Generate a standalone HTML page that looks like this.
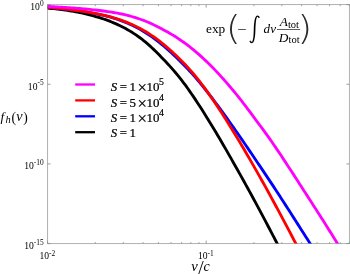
<!DOCTYPE html>
<html><head><meta charset="utf-8"><title>plot</title>
<style>html,body{margin:0;padding:0;background:#fff;}body{width:350px;height:274px;overflow:hidden;position:relative;}</style>
</head><body>
<svg width="350" height="274" viewBox="0 0 350 274" style="position:absolute;left:0;top:0">
<defs><clipPath id="ax"><rect x="47.6" y="1.6" width="303.8" height="242"/></clipPath></defs>
<rect x="47.6" y="4.6" width="301.79999999999995" height="239.0" fill="none" stroke="#a8a8a8" stroke-width="0.9"/>
<path d="M47.60,243.6v-3M47.60,4.6v3M95.34,243.6v-1.5M95.34,4.6v1.5M123.26,243.6v-1.5M123.26,4.6v1.5M143.08,243.6v-1.5M143.08,4.6v1.5M158.45,243.6v-1.5M158.45,4.6v1.5M171.00,243.6v-1.5M171.00,4.6v1.5M181.62,243.6v-1.5M181.62,4.6v1.5M190.82,243.6v-1.5M190.82,4.6v1.5M198.93,243.6v-1.5M198.93,4.6v1.5M206.18,243.6v-3M206.18,4.6v3M253.92,243.6v-1.5M253.92,4.6v1.5M281.85,243.6v-1.5M281.85,4.6v1.5M301.66,243.6v-1.5M301.66,4.6v1.5M317.03,243.6v-1.5M317.03,4.6v1.5M329.59,243.6v-1.5M329.59,4.6v1.5M340.20,243.6v-1.5M340.20,4.6v1.5M349.40,243.6v-1.5M349.40,4.6v1.5M47.6,4.60h3M349.4,4.60h-3M47.6,84.27h3M349.4,84.27h-3M47.6,163.93h3M349.4,163.93h-3M47.6,243.60h3M349.4,243.60h-3" stroke="#888" stroke-width="0.8" fill="none"/>
<g clip-path="url(#ax)" fill="none" stroke-width="2.85" stroke-linejoin="round">
<path d="M47.6,8.11 L49.6,8.29 L51.6,8.49 L53.6,8.69 L55.6,8.91 L57.6,9.13 L59.6,9.37 L61.6,9.62 L63.6,9.89 L65.6,10.17 L67.6,10.46 L69.6,10.76 L71.6,11.09 L73.6,11.42 L75.6,11.78 L77.6,12.15 L79.6,12.55 L81.6,12.96 L83.6,13.40 L85.6,13.87 L87.6,14.36 L89.6,14.87 L91.6,15.40 L93.6,15.95 L95.6,16.51 L97.6,17.09 L99.6,17.70 L101.6,18.34 L103.6,19.00 L105.6,19.70 L107.6,20.43 L109.6,21.19 L111.6,21.99 L113.6,22.82 L115.6,23.68 L117.6,24.59 L119.6,25.52 L121.6,26.50 L123.6,27.53 L125.6,28.59 L127.6,29.71 L129.6,30.87 L131.6,32.08 L133.6,33.35 L135.6,34.67 L137.6,36.04 L139.6,37.48 L141.6,38.97 L143.6,40.54 L145.6,42.18 L147.6,43.90 L149.6,45.67 L151.6,47.50 L153.6,49.39 L155.6,51.33 L157.6,53.31 L159.6,55.33 L161.6,57.38 L163.6,59.45 L165.6,61.55 L167.6,63.69 L169.6,65.87 L171.6,68.10 L173.6,70.38 L175.6,72.72 L177.6,75.13 L179.6,77.60 L181.6,80.14 L183.6,82.77 L185.6,85.47 L187.6,88.25 L189.6,91.09 L191.6,93.97 L193.6,96.91 L195.6,99.89 L197.6,102.92 L199.6,105.99 L201.6,109.10 L203.6,112.25 L205.6,115.43 L207.6,118.65 L209.6,121.90 L211.6,125.18 L213.6,128.49 L215.6,131.83 L217.6,135.19 L219.6,138.58 L221.6,141.99 L223.6,145.43 L225.6,148.89 L227.6,152.37 L229.6,155.87 L231.6,159.39 L233.6,162.93 L235.6,166.48 L237.6,170.04 L239.6,173.60 L241.6,177.17 L243.6,180.76 L245.6,184.36 L247.6,187.97 L249.6,191.61 L251.6,195.28 L253.6,198.98 L255.6,202.69 L257.6,206.42 L259.6,210.16 L261.6,213.90 L263.6,217.67 L265.6,221.44 L267.6,225.22 L269.6,229.02 L271.6,232.83 L273.6,236.64 L275.6,240.48 L277.6,244.32 L279.6,248.17 L281.6,252.02 L283.6,255.88 L285.6,259.74 L287.6,263.61 L289.6,267.48" stroke="#000"/>
<path d="M47.6,7.63 L49.6,7.77 L51.6,7.92 L53.6,8.08 L55.6,8.24 L57.6,8.41 L59.6,8.59 L61.6,8.78 L63.6,8.97 L65.6,9.17 L67.6,9.38 L69.6,9.61 L71.6,9.84 L73.6,10.08 L75.6,10.34 L77.6,10.60 L79.6,10.88 L81.6,11.18 L83.6,11.49 L85.6,11.82 L87.6,12.17 L89.6,12.53 L91.6,12.90 L93.6,13.28 L95.6,13.67 L97.6,14.08 L99.6,14.50 L101.6,14.94 L103.6,15.40 L105.6,15.89 L107.6,16.40 L109.6,16.93 L111.6,17.49 L113.6,18.08 L115.6,18.71 L117.6,19.37 L119.6,20.06 L121.6,20.79 L123.6,21.55 L125.6,22.36 L127.6,23.20 L129.6,24.08 L131.6,25.01 L133.6,25.97 L135.6,26.98 L137.6,28.03 L139.6,29.12 L141.6,30.26 L143.6,31.44 L145.6,32.67 L147.6,33.95 L149.6,35.28 L151.6,36.66 L153.6,38.09 L155.6,39.57 L157.6,41.09 L159.6,42.67 L161.6,44.29 L163.6,45.96 L165.6,47.67 L167.6,49.42 L169.6,51.22 L171.6,53.05 L173.6,54.91 L175.6,56.79 L177.6,58.71 L179.6,60.66 L181.6,62.64 L183.6,64.66 L185.6,66.72 L187.6,68.82 L189.6,70.96 L191.6,73.15 L193.6,75.38 L195.6,77.66 L197.6,79.99 L199.6,82.37 L201.6,84.81 L203.6,87.27 L205.6,89.78 L207.6,92.32 L209.6,94.89 L211.6,97.49 L213.6,100.12 L215.6,102.78 L217.6,105.46 L219.6,108.17 L221.6,110.89 L223.6,113.65 L225.6,116.41 L227.6,119.20 L229.6,122.01 L231.6,124.83 L233.6,127.66 L235.6,130.52 L237.6,133.38 L239.6,136.26 L241.6,139.16 L243.6,142.06 L245.6,144.98 L247.6,147.91 L249.6,150.85 L251.6,153.80 L253.6,156.76 L255.6,159.72 L257.6,162.69 L259.6,165.66 L261.6,168.63 L263.6,171.61 L265.6,174.60 L267.6,177.59 L269.6,180.59 L271.6,183.60 L273.6,186.63 L275.6,189.67 L277.6,192.73 L279.6,195.81 L281.6,198.90 L283.6,202.00 L285.6,205.11 L287.6,208.23 L289.6,211.35 L291.6,214.48 L293.6,217.61 L295.6,220.74 L297.6,223.88 L299.6,227.02 L301.6,230.16 L303.6,233.29 L305.6,236.43 L307.6,239.56 L309.6,242.69 L311.6,245.82 L313.6,248.96 L315.6,252.09 L317.6,255.22 L319.6,258.36 L321.6,261.50 L323.6,264.64 L325.6,267.78" stroke="#00f"/>
<path d="M47.6,7.32 L49.6,7.49 L51.6,7.66 L53.6,7.84 L55.6,8.02 L57.6,8.21 L59.6,8.40 L61.6,8.61 L63.6,8.81 L65.6,9.03 L67.6,9.26 L69.6,9.49 L71.6,9.73 L73.6,9.98 L75.6,10.25 L77.6,10.52 L79.6,10.80 L81.6,11.10 L83.6,11.42 L85.6,11.75 L87.6,12.09 L89.6,12.44 L91.6,12.81 L93.6,13.18 L95.6,13.56 L97.6,13.94 L99.6,14.35 L101.6,14.77 L103.6,15.22 L105.6,15.68 L107.6,16.17 L109.6,16.68 L111.6,17.21 L113.6,17.77 L115.6,18.37 L117.6,18.99 L119.6,19.64 L121.6,20.33 L123.6,21.06 L125.6,21.82 L127.6,22.62 L129.6,23.45 L131.6,24.33 L133.6,25.24 L135.6,26.19 L137.6,27.19 L139.6,28.23 L141.6,29.31 L143.6,30.43 L145.6,31.60 L147.6,32.82 L149.6,34.09 L151.6,35.41 L153.6,36.78 L155.6,38.20 L157.6,39.67 L159.6,41.19 L161.6,42.77 L163.6,44.39 L165.6,46.06 L167.6,47.77 L169.6,49.54 L171.6,51.34 L173.6,53.18 L175.6,55.04 L177.6,56.95 L179.6,58.90 L181.6,60.89 L183.6,62.93 L185.6,65.02 L187.6,67.17 L189.6,69.38 L191.6,71.65 L193.6,73.98 L195.6,76.38 L197.6,78.85 L199.6,81.39 L201.6,84.00 L203.6,86.66 L205.6,89.38 L207.6,92.14 L209.6,94.96 L211.6,97.82 L213.6,100.72 L215.6,103.67 L217.6,106.66 L219.6,109.69 L221.6,112.76 L223.6,115.87 L225.6,119.01 L227.6,122.18 L229.6,125.39 L231.6,128.63 L233.6,131.89 L235.6,135.18 L237.6,138.49 L239.6,141.83 L241.6,145.19 L243.6,148.58 L245.6,151.99 L247.6,155.42 L249.6,158.88 L251.6,162.36 L253.6,165.84 L255.6,169.34 L257.6,172.86 L259.6,176.39 L261.6,179.95 L263.6,183.52 L265.6,187.12 L267.6,190.74 L269.6,194.39 L271.6,198.06 L273.6,201.75 L275.6,205.45 L277.6,209.16 L279.6,212.89 L281.6,216.63 L283.6,220.38 L285.6,224.14 L287.6,227.92 L289.6,231.70 L291.6,235.50 L293.6,239.31 L295.6,243.13 L297.6,246.95 L299.6,250.79 L301.6,254.63 L303.6,258.47 L305.6,262.32 L307.6,266.18" stroke="#f00"/>
<path d="M47.6,6.38 L49.6,6.49 L51.6,6.60 L53.6,6.71 L55.6,6.82 L57.6,6.94 L59.6,7.06 L61.6,7.19 L63.6,7.32 L65.6,7.45 L67.6,7.59 L69.6,7.73 L71.6,7.87 L73.6,8.02 L75.6,8.17 L77.6,8.33 L79.6,8.50 L81.6,8.66 L83.6,8.84 L85.6,9.02 L87.6,9.20 L89.6,9.40 L91.6,9.60 L93.6,9.80 L95.6,10.02 L97.6,10.24 L99.6,10.48 L101.6,10.73 L103.6,10.99 L105.6,11.27 L107.6,11.55 L109.6,11.86 L111.6,12.17 L113.6,12.51 L115.6,12.86 L117.6,13.22 L119.6,13.61 L121.6,14.02 L123.6,14.45 L125.6,14.92 L127.6,15.42 L129.6,15.95 L131.6,16.50 L133.6,17.09 L135.6,17.71 L137.6,18.35 L139.6,19.02 L141.6,19.73 L143.6,20.46 L145.6,21.22 L147.6,22.03 L149.6,22.89 L151.6,23.81 L153.6,24.76 L155.6,25.75 L157.6,26.77 L159.6,27.81 L161.6,28.86 L163.6,29.93 L165.6,30.99 L167.6,32.08 L169.6,33.21 L171.6,34.38 L173.6,35.59 L175.6,36.83 L177.6,38.12 L179.6,39.45 L181.6,40.82 L183.6,42.23 L185.6,43.69 L187.6,45.19 L189.6,46.73 L191.6,48.31 L193.6,49.94 L195.6,51.61 L197.6,53.32 L199.6,55.07 L201.6,56.87 L203.6,58.72 L205.6,60.60 L207.6,62.53 L209.6,64.50 L211.6,66.51 L213.6,68.55 L215.6,70.63 L217.6,72.75 L219.6,74.90 L221.6,77.09 L223.6,79.31 L225.6,81.57 L227.6,83.87 L229.6,86.20 L231.6,88.57 L233.6,90.97 L235.6,93.41 L237.6,95.89 L239.6,98.40 L241.6,100.95 L243.6,103.53 L245.6,106.14 L247.6,108.78 L249.6,111.45 L251.6,114.14 L253.6,116.85 L255.6,119.58 L257.6,122.31 L259.6,125.02 L261.6,127.71 L263.6,130.41 L265.6,133.12 L267.6,135.87 L269.6,138.67 L271.6,141.53 L273.6,144.45 L275.6,147.39 L277.6,150.35 L279.6,153.33 L281.6,156.33 L283.6,159.35 L285.6,162.39 L287.6,165.43 L289.6,168.49 L291.6,171.57 L293.6,174.65 L295.6,177.74 L297.6,180.83 L299.6,183.94 L301.6,187.04 L303.6,190.15 L305.6,193.25 L307.6,196.36 L309.6,199.46 L311.6,202.57 L313.6,205.69 L315.6,208.80 L317.6,211.93 L319.6,215.06 L321.6,218.20 L323.6,221.36 L325.6,224.52 L327.6,227.69 L329.6,230.88 L331.6,234.09 L333.6,237.31 L335.6,240.54 L337.6,243.79 L339.6,247.05 L341.6,250.31 L343.6,253.57 L345.6,256.84 L347.6,260.10 L349.6,263.37 L351.6,266.65" stroke="#f0f"/>
</g>
<path d="M75.2,84.5H95" stroke="#f0f" stroke-width="2.3"/>
<path d="M75.2,100.4H95" stroke="#f00" stroke-width="2.3"/>
<path d="M75.2,116.3H95" stroke="#00f" stroke-width="2.3"/>
<path d="M75.2,132.2H95" stroke="#000" stroke-width="2.3"/>
<g font-family="'Liberation Serif', serif" fill="#000">
<text x="43.6" y="9.9" font-size="9.6" text-anchor="end">10<tspan dy="-4.4" font-size="7.4">0</tspan></text>
<text x="43.6" y="89.6" font-size="9.6" text-anchor="end">10<tspan dy="-4.4" font-size="7.4">-5</tspan></text>
<text x="43.6" y="169.2" font-size="9.6" text-anchor="end">10<tspan dy="-4.4" font-size="7.4">-10</tspan></text>
<text x="43.6" y="248.9" font-size="9.6" text-anchor="end">10<tspan dy="-4.4" font-size="7.4">-15</tspan></text>
<text x="47.3" y="258.9" font-size="9.6" text-anchor="middle">10<tspan dy="-3.1" font-size="7.4">-2</tspan></text>
<text x="205.9" y="258.9" font-size="9.6" text-anchor="middle">10<tspan dy="-3.1" font-size="7.4">-1</tspan></text>
<g stroke="#000" stroke-width="0.22">
<text y="91.3" font-size="12.9"><tspan x="110.85" font-style="italic">S</tspan> <tspan x="119.76">=</tspan> <tspan x="129.40">1</tspan><tspan x="137.38" dy="1.9" font-size="16.7">×</tspan><tspan x="146.58" dy="-1.9">10</tspan><tspan x="158.96" dy="-6" font-size="9.8">5</tspan></text>
<text y="106.6" font-size="12.9"><tspan x="110.85" font-style="italic">S</tspan> <tspan x="119.76">=</tspan> <tspan x="129.45">5</tspan><tspan x="137.38" dy="1.9" font-size="16.7">×</tspan><tspan x="146.58" dy="-1.9">10</tspan><tspan x="159.03" dy="-6" font-size="9.8">4</tspan></text>
<text y="121.9" font-size="12.9"><tspan x="110.85" font-style="italic">S</tspan> <tspan x="119.76">=</tspan> <tspan x="129.40">1</tspan><tspan x="137.38" dy="1.9" font-size="16.7">×</tspan><tspan x="146.58" dy="-1.9">10</tspan><tspan x="159.03" dy="-6" font-size="9.8">4</tspan></text>
<text y="137.2" font-size="12.9"><tspan x="110.85" font-style="italic">S</tspan> <tspan x="119.76">=</tspan> <tspan x="129.40">1</tspan></text>
</g>
<text y="121.3" font-size="13.4"><tspan x="0.55" font-style="italic">f</tspan><tspan x="5.62" dy="1.4" font-size="10.4" font-style="italic">h</tspan><tspan x="11.50" dy="-1.2" font-size="13.6">(</tspan><tspan x="16.31" dy="-0.2" font-size="14.2" font-style="italic">v</tspan><tspan x="23.26" dy="0.2" font-size="13.6">)</tspan></text>
<text y="270.9" font-size="14.4"><tspan x="191.20" font-size="14.6" font-style="italic">v</tspan><tspan x="198.30" dy="3.2" font-size="19.5">/</tspan><tspan x="203.47" dy="-3.2" font-size="14.0" font-style="italic">c</tspan></text>
<text transform="translate(205.98,32.50) scale(0.993,1)" font-size="13.5">exp</text>
<text transform="translate(225.8,39.9) scale(1.15,1)" font-size="33.6" font-family="'DejaVu Sans', sans-serif" font-weight="200" fill="#2a2a2a">(</text>
<text transform="translate(237.39,33.60) scale(1.167,1)" font-size="14">−</text>
<text transform="translate(248.1,40.7) scale(0.76,1)" font-size="34" font-family="NanumGothic, 'DejaVu Math TeX Gyre', serif">∫</text>
<text transform="translate(263.60,32.50) scale(0.980,1)" font-size="13.4" font-style="italic">dv</text>
<text x="279.73" y="26.40" font-size="13.3" font-style="italic">A</text>
<text transform="translate(287.90,28.00) scale(1.125,1)" font-size="9.4">tot</text>
<text x="278.75" y="41.60" font-size="13.3" font-style="italic">D</text>
<text transform="translate(288.50,43.20) scale(1.125,1)" font-size="9.4">tot</text>
<text transform="translate(297.2,39.9) scale(1.15,1)" font-size="33.6" font-family="'DejaVu Sans', sans-serif" font-weight="200" fill="#2a2a2a">)</text>
</g>
<path d="M277,29.5H300.2" stroke="#1a1a1a" stroke-width="0.7"/>
</svg>
</body></html>
